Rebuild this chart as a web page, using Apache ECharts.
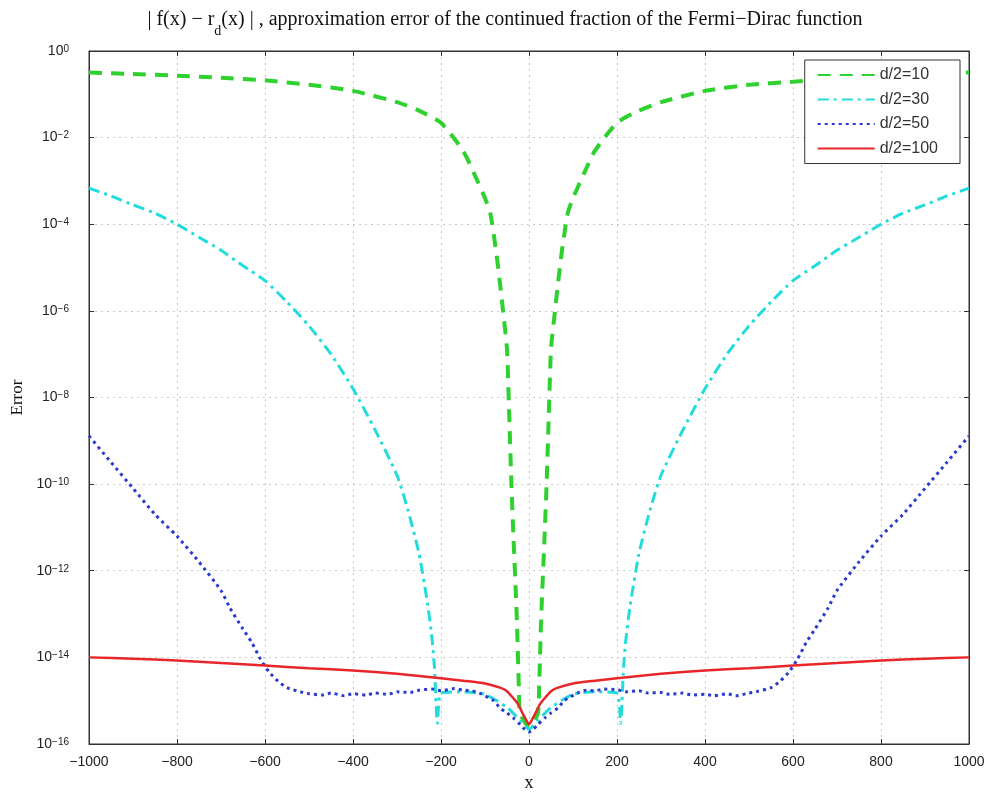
<!DOCTYPE html>
<html>
<head>
<meta charset="utf-8">
<script src="https://cdn.jsdelivr.net/npm/echarts@6/dist/echarts.min.js"></script>
<style>
  html, body { margin: 0; padding: 0; background: #fff; }
  #chart { width: 991px; height: 794px; }
</style>
</head>
<body>
<div id="chart"></div>
<script>
// values (error on a log scale)
const xTicks = [-1000, -800, -600, -400, -200, 0, 200, 400, 600, 800, 1000]

const xD10 = [-1000, -900, -800, -700, -600, -500, -400, -300, -250, -200, -150, -125, -100, -88, -75, -66, -58, -50, -45, -40, -35, -30, -27, -23, -20, 0,
  20, 23, 27, 30, 35, 40, 45, 50, 58, 66, 75, 88, 100, 125, 150, 200, 250, 300, 400, 500, 600, 700, 800, 900, 1000]
const errD10 = [3.2e-1, 2.95e-1, 2.7e-1, 2.4e-1, 2.1e-1, 1.66e-1, 1.2e-1, 6.6e-2, 4.2e-2, 2.2e-2, 5e-3, 1.5e-3, 4e-4, 1.8e-4, 2.5e-5, 4.4e-6, 8e-7, 1.3e-7, 4e-9, 1e-10, 5e-12, 3.2e-13, 5e-14, 2e-15, 5e-16, 2.5e-16,
  5e-16, 2e-15, 5e-14, 3.2e-13, 5e-12, 1e-10, 4e-9, 1.3e-7, 8e-7, 4.4e-6, 2.5e-5, 1.8e-4, 4e-4, 1.5e-3, 5e-3, 2.2e-2, 4.2e-2, 6.6e-2, 1.2e-1, 1.66e-1, 1.95e-1, 2.3e-1, 2.65e-1, 2.95e-1, 3.2e-1]

const xD30 = [-1000, -950, -900, -850, -800, -750, -700, -650, -600, -550, -500, -450, -400, -350, -300, -275, -250, -230, -220, -215, -208, -200, -150, -100, -50, -20, 0,
  20, 50, 100, 150, 200, 208, 215, 220, 230, 250, 275, 300, 350, 400, 450, 500, 550, 600, 650, 700, 750, 800, 850, 900, 950, 1000]
const errD30 = [6.8e-4, 4.5e-4, 2.8e-4, 1.8e-4, 1e-4, 5e-5, 2.5e-5, 1.1e-5, 5e-6, 1.6e-6, 4.5e-7, 1e-7, 1.6e-8, 1.8e-9, 1.6e-10, 2.5e-11, 2.5e-12, 1.6e-13, 2.5e-14, 6e-15, 3e-16, 1.5e-15, 1.6e-15, 1.4e-15, 7e-16, 3.5e-16, 2.2e-16,
  3.5e-16, 7e-16, 1.4e-15, 1.6e-15, 1.5e-15, 3e-16, 6e-15, 2.5e-14, 1.6e-13, 2.5e-12, 2.5e-11, 1.6e-10, 1.8e-9, 1.6e-8, 1e-7, 4.5e-7, 1.6e-6, 5e-6, 1.1e-5, 2.5e-5, 5e-5, 1e-4, 1.8e-4, 2.8e-4, 4.5e-4, 6.8e-4]

const xD50 = [-1000, -950, -900, -850, -800, -750, -700, -680, -650, -630, -610, -590, -570, -550, -520, -500, -470, -450, -420, -400, -370, -350, -320, -300, -270, -250, -220, -200, -170, -150, -130, -110, -80, -66, -50, -36, -20, -10, 0,
  10, 20, 36, 50, 66, 80, 110, 130, 150, 170, 200, 220, 250, 270, 300, 320, 350, 370, 400, 420, 450, 470, 500, 520, 550, 570, 590, 610, 630, 650, 680, 700, 750, 800, 850, 900, 950, 1000]
const errD50 = [1.3e-9, 3.2e-10, 8e-11, 2e-11, 6.3e-12, 1.6e-12, 3.5e-13, 1.4e-13, 4.5e-14, 2.2e-14, 9e-15, 4.5e-15, 2.8e-15, 2e-15, 1.6e-15, 1.45e-15, 1.35e-15, 1.5e-15, 1.3e-15, 1.45e-15, 1.35e-15, 1.5e-15, 1.4e-15, 1.6e-15, 1.55e-15, 1.75e-15, 1.85e-15, 1.7e-15, 1.9e-15, 1.75e-15, 1.7e-15, 1.45e-15, 1e-15, 6.8e-16, 5.2e-16, 4e-16, 2.8e-16, 2.2e-16, 1.9e-16,
  2.2e-16, 2.8e-16, 4e-16, 5.2e-16, 6.8e-16, 1e-15, 1.5e-15, 1.75e-15, 1.7e-15, 1.85e-15, 1.8e-15, 1.6e-15, 1.7e-15, 1.5e-15, 1.55e-15, 1.4e-15, 1.5e-15, 1.35e-15, 1.4e-15, 1.3e-15, 1.45e-15, 1.3e-15, 1.5e-15, 1.65e-15, 2e-15, 2.8e-15, 4.5e-15, 9e-15, 2.2e-14, 4.5e-14, 1.4e-13, 3.5e-13, 1.6e-12, 6.3e-12, 2e-11, 8e-11, 3.2e-10, 1.3e-9]

const xD100 = [-1000, -900, -800, -700, -600, -500, -400, -300, -200, -150, -100, -66, -50, -36, -25, -14, -6, 0,
  6, 14, 25, 36, 50, 66, 100, 150, 200, 300, 400, 500, 600, 700, 800, 900, 1000]
const errD100 = [1e-14, 9.3e-15, 8.5e-15, 7.4e-15, 6.5e-15, 5.6e-15, 5e-15, 4.2e-15, 3.3e-15, 2.9e-15, 2.5e-15, 2e-15, 1.65e-15, 1.15e-15, 8.3e-16, 5e-16, 3.5e-16, 2.8e-16,
  3.5e-16, 5e-16, 8.3e-16, 1.15e-15, 1.65e-15, 2e-15, 2.5e-15, 2.9e-15, 3.3e-15, 4.2e-15, 5e-15, 5.6e-15, 6.5e-15, 7.4e-15, 8.5e-15, 9.3e-15, 1e-14]

const seriesNames = ['d/2=10', 'd/2=30', 'd/2=50', 'd/2=100']

const pairs = (xs, ys) => xs.map((x, i) => [x, ys[i]])
const minus = s => String(s).replace('-', '\u2212')

const chart = echarts.init(document.getElementById('chart'), null, { renderer: 'canvas' })

const sansFont = 'Liberation Sans, Arial, sans-serif'
const serifFont = 'Liberation Serif, Times New Roman, serif'

const gridLine = { show: true, lineStyle: { color: '#c8c8c8', type: [2, 4], width: 1 } }
const boxLine = { show: true, onZero: false, lineStyle: { color: '#333', width: 1 } }
const inTick = { show: true, inside: true, length: 5, lineStyle: { color: '#333' } }

const option = {
  backgroundColor: '#fff',
  animation: false,
  title: {
    text: '| f(x) \u2212 r{s|d}(x) | , approximation error of the continued fraction of the Fermi\u2212Dirac function',
    left: 500,
    textAlign: 'center',
    top: -3,
    textStyle: {
      fontFamily: serifFont,
      fontSize: 20,
      fontWeight: 'normal',
      color: '#111',
      lineHeight: 36,
      rich: {
        s: { fontFamily: serifFont, fontSize: 14, lineHeight: 14, verticalAlign: 'bottom', color: '#111' }
      }
    }
  },
  legend: {
    data: seriesNames,
    orient: 'vertical',
    right: 31,
    top: 60,
    itemWidth: 57,
    itemHeight: 14,
    itemGap: 8.5,
    padding: [7, 22, 7, 12],
    backgroundColor: '#fff',
    borderColor: '#333',
    borderWidth: 1,
    borderRadius: 0,
    itemStyle: { opacity: 0 },
    textStyle: { fontFamily: sansFont, fontSize: 16, color: '#333' }
  },
  grid: {
    left: 89,
    right: 22,
    top: 51,
    bottom: 50,
    containLabel: false,
    outerBoundsMode: 'none',
    show: true,
    borderColor: '#333',
    borderWidth: 1
  },
  xAxis: [
    {
      type: 'value',
      min: -1000,
      max: 1000,
      interval: 200,
      name: 'x',
      nameLocation: 'middle',
      nameGap: 30,
      nameTextStyle: { fontFamily: serifFont, fontSize: 18, color: '#111' },
      axisLine: boxLine,
      axisTick: inTick,
      axisLabel: { fontFamily: sansFont, fontSize: 14, color: '#222', margin: 11, formatter: v => minus(v) },
      splitLine: gridLine
    },
    {
      type: 'value',
      position: 'top',
      min: -1000,
      max: 1000,
      interval: 200,
      axisLine: boxLine,
      axisTick: inTick,
      axisLabel: { show: false },
      splitLine: { show: false }
    }
  ],
  yAxis: [
    {
      type: 'log',
      logBase: 10,
      min: 1e-16,
      max: 1,
      interval: 2,
      name: 'Error',
      nameLocation: 'middle',
      nameGap: 61,
      nameTextStyle: { fontFamily: serifFont, fontSize: 17, color: '#111' },
      axisLine: boxLine,
      axisTick: inTick,
      minorTick: { show: false },
      axisLabel: {
        margin: 20,
        formatter: v => '{b|10}{s|' + minus(Math.round(Math.log10(v))) + '}',
        rich: {
          b: { fontFamily: sansFont, fontSize: 14, color: '#222', lineHeight: 14, verticalAlign: 'bottom' },
          s: { fontFamily: sansFont, fontSize: 10, color: '#222', lineHeight: 10, verticalAlign: 'top', padding: [0, 0, 9, 0] }
        }
      },
      splitLine: gridLine
    },
    {
      type: 'log',
      logBase: 10,
      min: 1e-16,
      max: 1,
      interval: 2,
      position: 'right',
      axisLine: boxLine,
      axisTick: inTick,
      axisLabel: { show: false },
      splitLine: { show: false }
    }
  ],
  series: [
    {
      name: seriesNames[0],
      type: 'line',
      symbol: 'none',
      smooth: 0.2,
      data: pairs(xD10, errD10),
      lineStyle: { color: '#2fd12f', width: 4, type: [13, 9] },
      itemStyle: { color: '#2fd12f' }
    },
    {
      name: seriesNames[1],
      type: 'line',
      symbol: 'none',
      smooth: 0.2,
      data: pairs(xD30, errD30),
      lineStyle: { color: '#22dcdc', width: 3, type: [11, 5, 3, 5] },
      itemStyle: { color: '#22dcdc' }
    },
    {
      name: seriesNames[2],
      type: 'line',
      symbol: 'none',
      smooth: 0.2,
      data: pairs(xD50, errD50),
      lineStyle: { color: '#2b3bcc', width: 3, type: [3, 4] },
      itemStyle: { color: '#2b3bcc' }
    },
    {
      name: seriesNames[3],
      type: 'line',
      symbol: 'none',
      smooth: 0.2,
      data: pairs(xD100, errD100),
      lineStyle: { color: '#e8262a', width: 2.5, type: 'solid' },
      itemStyle: { color: '#e8262a' }
    }
  ]
}

chart.setOption(option)
</script>
</body>
</html>
